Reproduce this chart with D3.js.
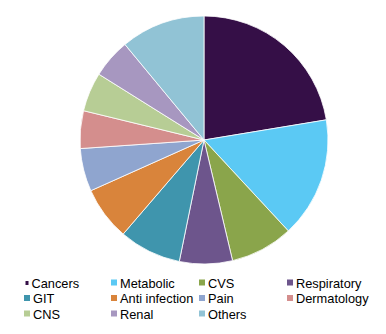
<!DOCTYPE html>
<html><head><meta charset="utf-8">
<script src="https://cdn.jsdelivr.net/npm/d3@7"></script>
<style>body{margin:0;background:#fff}svg{display:block}</style>
</head><body>
<svg id="c" width="386" height="334"></svg>
<script>
const categories = ["Cancers","Metabolic","CVS","Respiratory","GIT","Anti infection","Pain","Dermatology","CNS","Renal","Others"];
const values = [22.4,15.7,8.2,6.9,8.1,7.0,5.6,4.9,5.1,5.1,11.0];
const colors = ["#350f47","#5bc9f4","#8aa54b","#6d558c","#3f95ad","#d9843b","#8fa5cf","#d48e8d","#b7cd95","#a797c0","#91c3d5"];

const svg = d3.select("#c");
const cx = 204, cy = 140, r = 124;
const pie = d3.pie().sort(null).value(d => d)(values);
const arc = d3.arc().innerRadius(0).outerRadius(r);
svg.append("g").attr("transform", `translate(${cx},${cy})`)
  .selectAll("path").data(pie).join("path")
  .attr("d", arc)
  .attr("fill", (d,i) => colors[i])
  .attr("stroke", "#fff").attr("stroke-width", 0.8);

const colX = [24, 111, 199, 287];
const rowY = [287.5, 303, 318.5];
const lg = svg.append("g");
categories.forEach((c, i) => {
  const col = i % 4, row = Math.floor(i / 4);
  const x = colX[col], y = rowY[row];
  const g = lg.append("g");
  if (i === 0) {
    g.append("rect").attr("x", x + 1.5).attr("y", y - 6.5).attr("width", 3).attr("height", 4).attr("fill", colors[i]);
  } else {
    g.append("rect").attr("x", x).attr("y", y - 8).attr("width", 6).attr("height", 6).attr("fill", colors[i]);
  }
  g.append("text").attr("x", x + (i === 0 ? 7.5 : 9)).attr("y", y)
    .attr("font-family", "Liberation Sans, Arial, sans-serif").attr("font-size", 12.8)
    .attr("fill", "#000").text(c);
});
</script>
</body></html>
